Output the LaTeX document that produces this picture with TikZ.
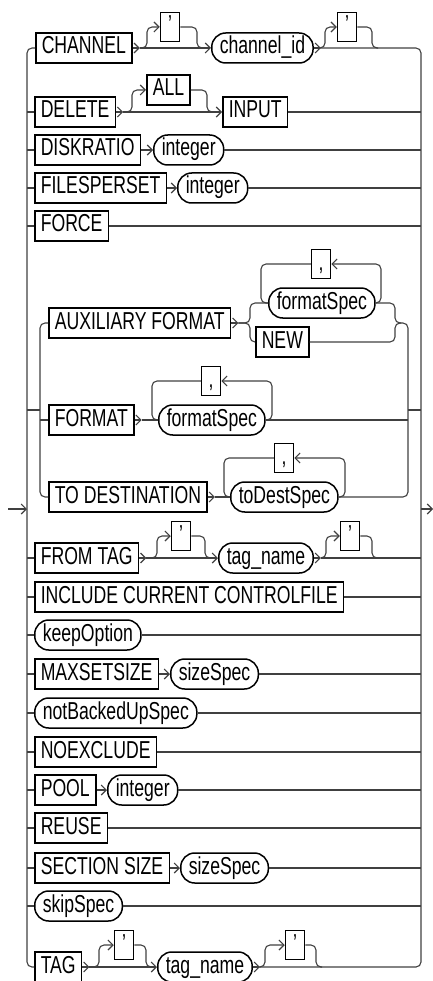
\documentclass[tikz,border=0pt]{standalone}
\usepackage{fontspec}
\setmainfont{Liberation Sans}[FakeStretch=0.72]
\usepackage{tikz}
\usetikzlibrary{calc}
\usetikzlibrary{arrows.meta}

\begin{document}
\begin{tikzpicture}[x=1pt,y=-1pt,font=\fontsize{24.5}{29}\selectfont]
\tikzstyle{kw}=[rectangle,draw,line width=1.5pt,anchor=west,text height=17pt,text depth=5pt,inner xsep=6pt,inner ysep=4pt]
\tikzstyle{nt}=[kw,rounded corners=14pt,inner xsep=8pt]
\tikzstyle{sym}=[kw,anchor=center,minimum width=19pt,inner xsep=0pt,text height=16pt,text depth=4pt,inner ysep=4.5pt]
\tikzstyle{rail}=[line width=1.1pt,draw=black!75,rounded corners=5pt]
\tikzstyle{arr}=[rail,-{Straight Barb[length=5pt,width=10pt]}]
\useasboundingbox (0, 0) rectangle (433, 981);
\coordinate (L) at (27, 0);
\coordinate (R) at (421, 0);
\coordinate (start) at (8, 509);
\coordinate (finish) at (433, 509);

\node[kw] at(35, 48) (chan) {CHANNEL};
\node[sym] at(170, 27) (q1) {'};
\node[nt] at(211, 48) (chid) {channel\_id};
\node[sym] at(347, 27) (q2) {'};
\node[kw] at(34, 112) (del) {DELETE};
\node[kw] at(146, 90) (all) {ALL};
\node[kw] at(222, 112) (inp) {INPUT};
\node[kw] at(34, 150) (disk) {DISKRATIO};
\node[nt] at(153, 150) (diskint) {integer};
\node[kw] at(34, 188) (fps) {FILESPERSET};
\node[nt] at(177, 188) (fpsint) {integer};
\node[kw] at(34, 226) (force) {FORCE};

\node[kw] at(48, 323) (aux) {AUXILIARY FORMAT};
\node[nt] at(268, 303) (fs1) {formatSpec};
\node[sym] at(321, 264) (c1) {,};
\node[kw] at(255, 342) (new) {NEW};
\node[kw] at(48, 420) (fmt) {FORMAT};
\node[nt] at(158, 420) (fs2) {formatSpec};
\node[sym] at(211, 381) (c2) {,};
\node[kw] at(48, 497) (dest) {TO DESTINATION};
\node[nt] at(230, 497) (tds) {toDestSpec};
\node[sym] at(284, 458) (c3) {,};

\node[kw] at(34, 558) (ftag) {FROM TAG};
\node[sym] at(181, 536) (q3) {'};
\node[nt] at(218, 558) (tn1) {tag\_name};
\node[sym] at(350, 536) (q4) {'};
\node[kw] at(34, 597) (incl) {INCLUDE CURRENT CONTROLFILE};
\node[nt] at(34, 635) (keep) {keepOption};
\node[kw] at(34, 674) (maxs) {MAXSETSIZE};
\node[nt] at(170, 674) (maxsz) {sizeSpec};
\node[nt] at(34, 713) (nbu) {notBackedUpSpec};
\node[kw] at(34, 752) (noex) {NOEXCLUDE};
\node[kw] at(34, 790) (pool) {POOL};
\node[nt] at(107, 790) (poolint) {integer};
\node[kw] at(34, 828) (reuse) {REUSE};
\node[kw] at(34, 868) (secs) {SECTION SIZE};
\node[nt] at(180, 868) (secsz) {sizeSpec};
\node[nt] at(34, 906) (skip) {skipSpec};
\node[kw] at(34, 967) (tag) {TAG};
\node[sym] at(124, 945) (q5) {'};
\node[nt] at(157, 967) (tn2) {tag\_name};
\node[sym] at(295, 945) (q6) {'};

\draw[arr] (start) -- (L |- start);
\draw[arr] (R |- finish) -- (finish);

\draw[arr] (chan.east) -- ++(7, 0) coordinate (chanJ);
\draw[arr] (chanJ) -| (147, 27) -- (q1.west);
\draw[arr] (chanJ) -- (chid.west);
\draw[rail] (q1.east) -| (197, 48) -- (203, 48);
\draw[arr] (chid.east) -- ++(7, 0) coordinate (chidJ);
\draw[arr] (chidJ) -| (325, 27) -- (q2.west);
\draw[rail] (q2.east) -| (372, 48) -- (378, 48);
\draw[rail] (chan.west) -- (27, 48) -- (27, 967) -- (tag.west);
\draw[rail] (chidJ) -- (421, 48) -- (421, 967) -- (tn2.east);

\draw[arr] (del.east) -- ++(7, 0) coordinate (delJ);
\draw[arr] (delJ) -| (132, 90) -- (all.west);
\draw[arr] (delJ) -- (inp.west);
\draw[rail] (all.east) -| (207, 112) -- (213, 112);
\draw[arr] (disk.east) -- (diskint.west);
\draw[arr] (fps.east) -- (fpsint.west);

\draw[rail] (27, 410) -- (40, 410);
\draw[rail] (408, 410) -- (421, 410);
\draw[rail] (aux.west) -- (40, 323) -- (40, 497) -- (dest.west);
\draw[rail] (40, 420) -- (fmt.west);
\draw[arr] (aux.east) -- ++(7, 0) coordinate (auxJ);
\draw[rail] (auxJ) -| (250, 303) -- (fs1.west);
\draw[rail] (auxJ) -| (250, 342) -- (new.west);
\draw[arr] (fs1.east) -| (381, 264) -- (c1.east);
\draw[rail] (c1.west) -| (261, 303) -- (fs1.west);
\draw[rail] (new.east) -| (395, 323) -- (401, 323);
\draw[rail] (fs1.east) -| (395, 323) -- (408, 323) -- (408, 497) -- (tds.east);
\draw[arr] (fmt.east) -- ++(7, 0) coordinate (fmtJ);
\draw[rail] (fmtJ) -- (fs2.west);
\draw[arr] (fs2.east) -| (272, 381) -- (c2.east);
\draw[rail] (c2.west) -| (152, 420) -- (fs2.west);
\draw[rail] (fs2.east) -- (408, 420);
\draw[arr] (dest.east) -- ++(7, 0) coordinate (destJ);
\draw[rail] (destJ) -- (tds.west);
\draw[arr] (tds.east) -| (345, 458) -- (c3.east);
\draw[rail] (c3.west) -| (224, 497) -- (tds.west);

\draw[arr] (ftag.east) -- ++(7, 0) coordinate (ftagJ);
\draw[arr] (ftagJ) -| (157, 536) -- (q3.west);
\draw[arr] (ftagJ) -- (tn1.west);
\draw[rail] (q3.east) -| (205, 558) -- (211, 558);
\draw[arr] (tn1.east) -- ++(7, 0) coordinate (tn1J);
\draw[arr] (tn1J) -| (326, 536) -- (q4.west);
\draw[rail] (q4.east) -| (372, 558) -- (378, 558);
\draw[rail] (tn1J) -- (R |- tn1J);

\draw[arr] (maxs.east) -- (maxsz.west);
\draw[arr] (pool.east) -- (poolint.west);
\draw[arr] (secs.east) -- (secsz.west);

\draw[arr] (tag.east) -- ++(7, 0) coordinate (tagJ);
\draw[arr] (tagJ) -| (99, 945) -- (q5.west);
\draw[arr] (tagJ) -- (tn2.west);
\draw[rail] (q5.east) -| (146, 967) -- (151, 967);
\draw[arr] (tn2.east) -- ++(7, 0) coordinate (tn2J);
\draw[arr] (tn2J) -| (265, 945) -- (q6.west);
\draw[rail] (q6.east) -| (316, 967) -- (322, 967);

\foreach \n in {del,disk,fps,force,ftag,incl,keep,maxs,nbu,noex,pool,reuse,secs,skip}
  \draw[rail] (L |- \n.west) -- (\n.west);
\foreach \n in {inp,diskint,fpsint,force,incl,keep,maxsz,nbu,noex,poolint,reuse,secsz,skip}
  \draw[rail] (\n.east) -- (R |- \n.east);
\end{tikzpicture}
\end{document}
